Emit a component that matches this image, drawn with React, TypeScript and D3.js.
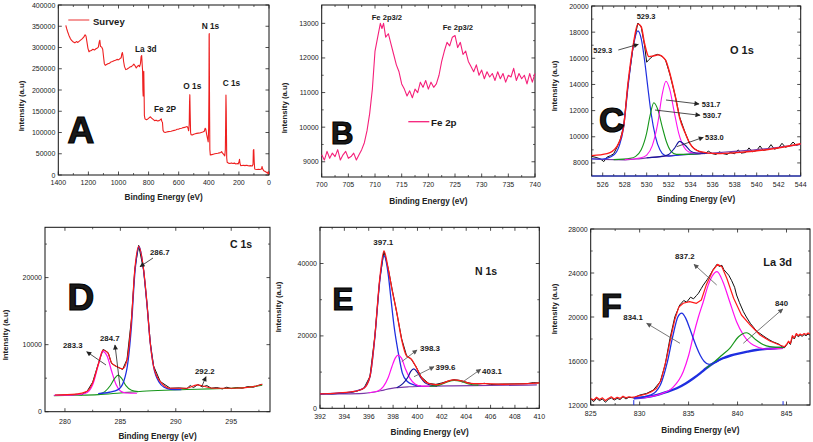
import * as d3 from "d3";

type Pt = [number, number];

// ---------- A: survey ----------
const surveyA: Pt[] = [
  [1350, 352000], [1345, 345000], [1338, 337000], [1330, 329000], [1320, 321000], [1310, 316000],
  [1300, 313000], [1290, 311000], [1280, 314000], [1270, 312000], [1260, 315000], [1250, 318000],
  [1240, 321000], [1230, 325000], [1222, 330000], [1216, 327000], [1210, 314000], [1203, 298000],
  [1196, 290000], [1190, 292000], [1180, 293000], [1170, 296000], [1160, 294000], [1150, 297000],
  [1140, 299000], [1134, 301000], [1128, 313000], [1124, 317000], [1120, 303000], [1112, 301000],
  [1105, 296000], [1100, 280000], [1094, 262000], [1088, 258000], [1080, 260000], [1070, 262000],
  [1060, 263000], [1050, 266000], [1040, 267000], [1030, 269000], [1020, 270000], [1010, 272000],
  [1000, 271000], [990, 274000], [982, 276000], [978, 285000], [974, 288000], [970, 280000],
  [966, 267000], [960, 255000], [952, 248000], [945, 249000], [935, 251000], [925, 254000],
  [915, 255000], [905, 258000], [898, 261000], [890, 257000], [882, 252000], [874, 256000],
  [866, 258000], [860, 255000], [854, 262000], [850, 278000], [846, 281000], [843, 262000],
  [840, 246000], [838, 200000], [836, 186000], [834, 232000], [832, 244000], [830, 198000],
  [828, 140000], [824, 132000], [815, 130000], [805, 132000], [795, 135000], [788, 137000],
  [780, 134000], [770, 131000], [760, 128000], [750, 129000], [740, 127000], [730, 128000],
  [722, 130000], [716, 132000], [712, 126000], [708, 124000], [704, 105000], [698, 101000],
  [690, 100000], [680, 101000], [670, 102000], [660, 102500], [650, 103000], [640, 104000],
  [630, 105000], [620, 106000], [610, 107500], [600, 108000], [590, 109500], [580, 110000],
  [570, 111500], [560, 112000], [550, 113500], [544, 114000], [538, 110000], [534, 104000],
  [530, 120000], [528, 170000], [526, 189000], [524, 150000], [521, 100000], [518, 95000],
  [510, 94000], [500, 96000], [490, 97000], [480, 98000], [470, 98500], [460, 99000],
  [450, 100000], [440, 101000], [430, 103000], [424, 110000], [420, 108000], [414, 95000],
  [408, 85000], [404, 78000], [401, 110000], [399, 200000], [398, 330000], [397, 333000],
  [395, 160000], [393, 60000], [390, 47000], [380, 48000], [370, 49000], [360, 50000],
  [350, 50500], [340, 51000], [330, 52000], [320, 53000], [315, 55000], [310, 52000],
  [300, 48000], [294, 45000], [290, 60000], [288, 120000], [286, 188000], [284, 150000],
  [281, 40000], [278, 30000], [270, 28000], [260, 27000], [250, 28500], [240, 27000],
  [230, 28000], [220, 26000], [210, 27000], [205, 26000], [200, 30000], [196, 37000],
  [193, 28000], [188, 22000], [180, 22500], [170, 23000], [160, 22000], [150, 23000],
  [140, 22000], [130, 21500], [120, 22000], [112, 21000], [106, 25000], [104, 58000],
  [101, 60000], [98, 30000], [95, 14000], [90, 13500], [80, 13000], [70, 13500],
  [60, 13000], [50, 14000], [46, 20000], [43, 15000], [35, 10000], [25, 8000],
  [15, 6000], [8, 4000], [5, 8000], [2, 2000],
];

// ---------- B: Fe 2p ----------
const fe2pB: Pt[] = [
  [700, 9200], [700.5, 9050], [701, 9300], [701.5, 9100], [702, 9250], [702.5, 9150], [703, 9350],
  [703.5, 9050], [704, 9200], [704.5, 9300], [705, 9100], [705.5, 9150], [706, 9250], [706.5, 9050],
  [707, 9200], [707.5, 9350], [708, 9550], [708.5, 9900], [709, 10400], [709.5, 11100], [710, 12200],
  [710.5, 12600], [711, 13000], [711.3, 12850], [711.6, 13000], [712, 12600], [712.5, 12700],
  [713, 12400], [713.5, 12100], [714, 11800], [714.5, 11600], [715, 11250], [715.5, 11100],
  [716, 10900], [716.5, 11050], [717, 10850], [717.5, 11100], [718, 11000], [718.5, 11300],
  [719, 11150], [719.5, 11350], [720, 11100], [720.5, 11300], [721, 11150], [721.5, 11250],
  [722, 11500], [722.5, 11900], [723, 12200], [723.5, 12450], [724, 12350], [724.5, 12600],
  [725, 12650], [725.5, 12300], [726, 12450], [726.5, 12100], [727, 12200], [727.5, 11900],
  [728, 11750], [728.5, 11600], [729, 11800], [729.5, 11500], [730, 11650], [730.5, 11400],
  [731, 11600], [731.5, 11450], [732, 11550], [732.5, 11350], [733, 11600], [733.5, 11400],
  [734, 11550], [734.5, 11300], [735, 11500], [735.5, 11450], [736, 11700], [736.5, 11350],
  [737, 11550], [737.5, 11400], [738, 11500], [738.5, 11250], [739, 11550], [739.5, 11300], [740, 11550],
];

// ---------- C: O 1s ----------
const o1sData: Pt[] = [
  [525, 8500], [525.4, 8420], [525.8, 8300], [526.1, 8100], [526.4, 8450], [526.7, 8550], [527, 8700],
  [527.3, 9200], [527.6, 9800], [527.9, 10800], [528.3, 14000], [528.8, 17100], [529.2, 18700],
  [529.5, 18400], [529.8, 17000], [530, 15700], [530.2, 15900], [530.6, 16200], [531, 16300],
  [531.4, 16150], [531.7, 15900], [532.1, 14800], [532.6, 13100], [533, 11500], [533.5, 10300],
  [533.9, 9500], [534.3, 9100], [534.8, 8850], [535, 8800], [535.3, 8700], [535.6, 8900], [536, 8700],
  [536.3, 8650], [536.6, 8850], [537, 8700], [537.3, 8650], [537.6, 8800], [538, 8700], [538.3, 9000],
  [538.6, 8750], [539, 8800], [539.3, 9150], [539.6, 8850], [540, 8950], [540.3, 9300], [540.6, 8950],
  [541, 9050], [541.3, 9400], [541.6, 9050], [542, 9150], [542.3, 9500], [542.6, 9200], [543, 9300],
  [543.3, 9600], [543.6, 9350], [544, 9450],
];
const o1sFit: Pt[] = [
  [525, 8560], [526.4, 8710], [527.3, 9270], [527.9, 10790], [528.3, 14100], [528.8, 17150],
  [529.2, 18630], [529.5, 18420], [529.8, 17150], [530.2, 16130], [530.6, 16180], [531.05, 16260],
  [531.7, 15880], [532.1, 14860], [532.6, 13080], [533, 11430], [533.5, 10290], [533.9, 9520],
  [534.8, 8880], [536.4, 8710], [538.5, 8810], [540.9, 9010], [544, 9470],
];
const o1sBase: Pt[] = [
  [525, 8300], [527, 8250], [528, 8240], [529, 8300], [530, 8380], [531, 8460], [532, 8540],
  [533, 8610], [534, 8670], [536, 8760], [538, 8880], [540, 9020], [542, 9200], [544, 9420],
];
const o1s5293: Pt[] = [
  [525, 8320], [526, 8300], [527, 8600], [527.5, 9300], [527.9, 10700], [528.3, 13800], [528.8, 17000],
  [529.2, 18100], [529.5, 17500], [529.8, 15900], [530.1, 13800], [530.4, 11800], [530.8, 10000],
  [531.2, 9000], [531.6, 8600], [532, 8520], [533, 8610], [534, 8670], [535, 8720],
];
const o1s5307: Pt[] = [
  [527, 8250], [528.5, 8350], [529, 8500], [529.5, 9000], [530, 10300], [530.3, 11600], [530.65, 12600],
  [531, 12100], [531.4, 10800], [531.8, 9600], [532.2, 8900], [532.7, 8650], [533.5, 8650], [535, 8720],
];
const o1s5317: Pt[] = [
  [528, 8250], [529.5, 8400], [530, 8600], [530.5, 9300], [531, 11000], [531.4, 13200], [531.75, 14250],
  [532.1, 13600], [532.5, 11900], [532.9, 10300], [533.4, 9200], [534, 8800], [535, 8730],
];
const o1s5330: Pt[] = [
  [530, 8400], [531.5, 8520], [532, 8650], [532.5, 9100], [533, 9650], [533.5, 9350], [534, 8900],
  [534.5, 8760], [535.5, 8740],
];
const o1sFloor: Pt[] = [[525, 7000], [544, 7000]];

// ---------- D: C 1s ----------
const c1sData: Pt[] = [
  [279.1, 2450], [280, 2500], [280.5, 2450], [281, 2600], [281.5, 2500], [282, 3050], [282.5, 4400],
  [283, 7100], [283.45, 9300], [283.9, 8800], [284.2, 7200], [284.7, 6700], [285.2, 6300], [285.6, 7800],
  [286, 13800], [286.3, 21200], [286.65, 24800], [287.1, 21100], [287.4, 16100], [287.7, 10300],
  [288, 6800], [288.6, 4500], [289.5, 3500], [290.3, 3550], [291, 3450], [291.3, 3900], [291.6, 3600],
  [292, 4050], [292.4, 3700], [292.8, 3900], [293.2, 3500], [293.7, 3600], [294.2, 3400], [294.6, 3650],
  [295, 3450], [295.5, 3600], [296, 3500], [296.5, 3750], [297, 3650], [297.4, 3900], [297.8, 4100],
];
const c1sFit: Pt[] = [
  [279.1, 2490], [281, 2620], [282, 3050], [282.5, 4300], [283, 7000], [283.45, 9200], [283.9, 8700],
  [284.2, 7300], [284.7, 6700], [285.2, 6400], [285.6, 7700], [286, 13700], [286.3, 21150],
  [286.65, 24650], [287.1, 21150], [287.4, 16180], [287.7, 10200], [288, 6720], [288.6, 4480],
  [289.5, 3500], [291, 3500], [291.9, 4000], [292.5, 3800], [293.4, 3500], [295.2, 3500], [297, 3730], [297.8, 4090],
];
const c1sBase: Pt[] = [
  [279, 2400], [281, 2450], [283, 2550], [285, 2800], [287, 3050], [289, 3200], [291, 3300],
  [293, 3400], [295, 3500], [296.5, 3650], [297.8, 3950],
];
const c1s2833: Pt[] = [
  [279, 2450], [280.5, 2480], [281.5, 2600], [282, 2850], [282.5, 4000], [283, 6900], [283.4, 9000],
  [283.8, 8300], [284.2, 6100], [284.6, 4100], [285, 3100], [285.5, 2800], [286.5, 2750],
];
const c1s2847: Pt[] = [
  [283, 2600], [283.6, 3000], [284.1, 3900], [284.5, 5000], [284.8, 5450], [285.1, 5000], [285.5, 3900],
  [286, 3200], [286.6, 3000],
];
const c1s2867: Pt[] = [
  [283, 2700], [284, 2900], [284.8, 3300], [285.3, 4500], [285.7, 7600], [286, 12800], [286.3, 20500],
  [286.7, 24600], [287.1, 21000], [287.4, 16000], [287.7, 10200], [288, 6700], [288.5, 4400],
  [289, 3600], [289.5, 3350], [290.5, 3300],
];

// ---------- E: N 1s ----------
const n1sData: Pt[] = [
  [392, 3900], [392.5, 4050], [393, 3950], [393.5, 4100], [394, 4150], [394.5, 4350], [395, 4700],
  [395.6, 5500], [396.1, 8800], [396.5, 19800], [396.9, 35500], [397.25, 43300], [397.6, 38600],
  [397.9, 33200], [398.3, 26400], [398.7, 19200], [399.1, 14600], [399.5, 13500], [399.9, 11400],
  [400.3, 8700], [400.9, 6900], [401.5, 6600], [402, 7000], [402.5, 7500], [403, 7900], [403.5, 7700],
  [404, 7200], [404.5, 6800], [405, 6700], [405.5, 6900], [406, 6600], [407, 6700], [408, 6750],
  [409, 6800], [409.5, 7100], [410, 7000],
];
const n1sFit: Pt[] = [
  [392, 3970], [394.7, 4610], [395.6, 5550], [396.1, 8780], [396.5, 19900], [396.9, 35640],
  [397.25, 43500], [397.6, 38500], [397.9, 33000], [398.3, 26500], [398.7, 19000], [399.1, 14500],
  [399.5, 13600], [399.9, 11300], [400.3, 8600], [400.9, 6900], [401.6, 6500], [402.1, 6950],
  [402.9, 7860], [403.7, 7500], [404.3, 6900], [405.6, 6800], [407, 6650], [409.8, 6950], [410, 7000],
];
const n1sBase: Pt[] = [
  [392, 3970], [394, 4000], [395.6, 4150], [396.5, 4500], [397.3, 5100], [398.3, 5700], [399.3, 5950],
  [400.3, 6050], [402.8, 6200], [406, 6300], [409.8, 6450],
];
const n1s3971: Pt[] = [
  [392, 3970], [394, 4300], [395, 4800], [395.6, 5600], [396.1, 8700], [396.5, 19500], [396.9, 35000],
  [397.25, 42100], [397.6, 37000], [397.8, 31000], [398.08, 22670], [398.43, 15280], [398.76, 9720],
  [399.17, 7390], [399.7, 6500], [400.3, 6100],
];
const n1s3983: Pt[] = [
  [396, 4300], [396.7, 4700], [397.2, 6000], [397.6, 8500], [397.9, 11500], [398.2, 14000],
  [398.4, 14700], [398.7, 13800], [399, 11000], [399.4, 8200], [399.8, 6700], [400.3, 6100], [401, 6100],
];
const n1s3996: Pt[] = [
  [398.3, 5700], [398.8, 6800], [399.2, 8500], [399.45, 10200], [399.7, 10900], [400, 9900],
  [400.3, 8300], [400.6, 7100], [401, 6500], [401.6, 6150],
];
const n1s4031: Pt[] = [
  [401, 6100], [401.8, 6400], [402.4, 7200], [403, 7700], [403.6, 7400], [404.2, 6700], [405, 6350],
];

// ---------- F: La 3d ----------
const la3dData: Pt[] = [
  [825, 12550], [825.3, 12300], [825.6, 12600], [825.9, 12400], [826.2, 12550], [826.5, 12250],
  [826.8, 12500], [827.1, 12650], [827.4, 12450], [827.7, 12600], [828, 12500], [828.3, 12750],
  [828.6, 12550], [828.9, 12700], [829.4, 12650], [830, 12900], [830.7, 13050], [831.4, 13360],
  [832.1, 14120], [832.6, 15640], [833.1, 18060], [833.6, 20030], [834.1, 21090], [834.5, 21500],
  [834.8, 21350], [835.2, 21800], [835.5, 21650], [835.8, 21950], [836, 22150], [836.3, 22600],
  [836.5, 22900], [836.9, 23400], [837.2, 23820], [837.5, 24300], [837.9, 24790], [838.1, 24600],
  [838.4, 24700], [838.6, 24300], [838.9, 24000], [839.1, 23800], [839.4, 23300], [839.7, 22700],
  [839.9, 22000], [840.2, 21300], [840.6, 20480], [840.9, 20000], [841.3, 19430], [841.6, 19100],
  [842, 18660], [842.3, 18500], [842.6, 18300], [843, 18060], [843.3, 17900], [843.6, 17750],
  [844, 17610], [844.3, 17500], [844.5, 17300], [844.8, 17210], [845, 17450], [845.2, 17700],
  [845.4, 17500], [845.6, 18200], [845.8, 18000], [846, 18400], [846.2, 18200], [846.4, 18350],
  [846.6, 18250], [846.8, 18400], [847, 18300], [847.2, 18450], [847.4, 18350],
];
const la3dFit: Pt[] = [
  [825, 12600], [825.3, 12450], [825.6, 12700], [825.9, 12500], [826.2, 12650], [826.5, 12400],
  [826.8, 12600], [827.1, 12750], [827.4, 12550], [827.7, 12700], [828, 12600], [828.3, 12800],
  [828.6, 12650], [828.9, 12750], [829.2, 12700], [829.5, 12750], [830, 12850], [830.7, 13000],
  [831.2, 13200], [831.7, 13500], [832.2, 14300], [832.75, 16240], [833.2, 18200], [833.6, 19800],
  [834, 20900], [834.45, 21250], [835.1, 21400], [835.8, 21240], [836.3, 21550], [836.8, 22900],
  [837.5, 24270], [837.96, 24790], [838.4, 24570], [838.9, 23520], [839.6, 21700], [840.4, 20180],
  [841.3, 19270], [842.3, 18360], [843.3, 17820], [844.3, 17450], [844.8, 17300], [845, 17500],
  [845.2, 17800], [845.4, 17600], [845.6, 18300], [845.8, 18100], [846, 18500], [846.2, 18300],
  [846.4, 18450], [846.6, 18350], [846.8, 18500], [847, 18400], [847.2, 18550], [847.4, 18450],
];
const la3dBase: Pt[] = [
  [829.4, 12600], [830.5, 12700], [831.7, 12900], [832.8, 13200], [833.8, 13520], [834.7, 13950],
  [835.5, 14430], [836.2, 14900], [836.8, 15340], [837.6, 15850], [838.5, 16250], [839.3, 16500],
  [840.2, 16700], [841, 16850], [841.9, 17000], [843, 17100], [844.65, 17210],
];
const la3d8341: Pt[] = [
  [829.4, 12600], [830.5, 12750], [831.5, 13100], [832.2, 14000], [832.8, 15800], [833.4, 18300],
  [833.9, 20000], [834.3, 20350], [834.7, 19900], [835.1, 19000], [835.5, 18000], [835.8, 17300],
  [836.2, 16500], [836.6, 15950], [837.1, 15700], [837.6, 15820], [838.5, 16250], [839.3, 16500],
];
const la3d8372: Pt[] = [
  [829.4, 12600], [830.7, 12700], [832, 12950], [833.4, 13600], [834.45, 15030], [835, 16500],
  [835.5, 18360], [836, 20000], [836.5, 21390], [837, 22900], [837.4, 23700], [837.9, 24120],
  [838.5, 23210], [839.2, 21390], [839.9, 19570], [840.6, 18360], [841.6, 17450], [843, 17090], [844.65, 17150],
];
const la3d840: Pt[] = [
  [836.8, 15340], [837.6, 15900], [838.3, 16450], [839.2, 17150], [840.1, 18210], [840.9, 18570],
  [841.9, 17910], [842.6, 17500], [843.3, 17300], [844.65, 17210],
];
const la3dMarkL: Pt[] = [[829.4, 12000], [829.4, 12450]];
const la3dMarkR: Pt[] = [[844.65, 12000], [844.65, 12350]];

// ---------- ticks ----------
const aXTicks = [1400, 1200, 1000, 800, 600, 400, 200, 0];
const aYTicks = [0, 50000, 100000, 150000, 200000, 250000, 300000, 350000, 400000];
const bXTicks = [700, 705, 710, 715, 720, 725, 730, 735, 740];
const bYTicks = [9000, 10000, 11000, 12000, 13000];
const cXTicks = [526, 528, 530, 532, 534, 536, 538, 540, 542, 544];
const cYTicks = [8000, 10000, 12000, 14000, 16000, 18000, 20000];
const dXTicks = [280, 285, 290, 295];
const dYTicks = [0, 10000, 20000];
const eXTicks = [392, 394, 396, 398, 400, 402, 404, 406, 408, 410];
const eYTicks = [0, 20000, 40000];
const fXTicks = [825, 830, 835, 840, 845];
const fYTicks = [12000, 16000, 20000, 24000, 28000];

const FONT = "'Liberation Sans', Arial, sans-serif";
const RED = "#ff1a1a";
const BLUE = "#1f2fe0";
const GREEN = "#16961a";
const MAG = "#ff10f0";
const NAVY = "#16169a";
const PURPLE = "#7a3aa8";

type Curve = { data: Pt[]; color: string; width?: number; smooth?: boolean };
type Note = { text: string; at: Pt; size: number; anchor?: "start" | "middle" | "end"; weight?: number; fill?: string; big?: boolean };
type Pointer = { from: Pt; to: Pt; color: string };
type PanelCfg = {
  id: string;
  box: [number, number, number, number];
  xDomain: Pt;
  yDomain: Pt;
  xTicks: number[];
  xMinor: number[];
  yTicks: number[];
  yMinor: number[];
  xLabelDy: number;
  xTitleY: number;
  yTitle: Pt;
  curves: Curve[];
  notes: Note[];
  pointers: Pointer[];
};

const panels: PanelCfg[] = [
  {
    id: "A",
    box: [58.3, 5, 269, 175],
    xDomain: [1400, 0],
    yDomain: [0, 400000],
    xTicks: aXTicks,
    xMinor: d3.range(100, 1400, 200),
    yTicks: aYTicks,
    yMinor: [],
    xLabelDy: 10,
    xTitleY: 200,
    yTitle: [24, 106],
    curves: [{ data: surveyA, color: "#ee2020", width: 1.1 }],
    notes: [
      { text: "Survey", at: [93, 24.5], size: 9.5 },
      { text: "La 3d", at: [135, 51.5], size: 8.3 },
      { text: "Fe 2P", at: [154, 112.3], size: 8.3 },
      { text: "O 1s", at: [183.3, 89.3], size: 8.3 },
      { text: "N 1s", at: [201.7, 29.3], size: 8.3 },
      { text: "C 1s", at: [222.7, 86], size: 8.3 },
      { text: "A", at: [67.5, 143.3], size: 37, big: true },
    ],
    pointers: [],
  },
  {
    id: "B",
    box: [321.7, 5, 535, 177],
    xDomain: [700, 740],
    yDomain: [8560, 13530],
    xTicks: bXTicks,
    xMinor: d3.range(702.5, 740, 5),
    yTicks: bYTicks,
    yMinor: d3.range(9500, 13500, 1000),
    xLabelDy: 10,
    xTitleY: 204,
    yTitle: [287, 108],
    curves: [{ data: fe2pB, color: "#f5207a", width: 1.1 }],
    notes: [
      { text: "Fe 2p3/2", at: [371.7, 20], size: 7.6 },
      { text: "Fe 2p3/2", at: [442.7, 30], size: 7.6 },
      { text: "Fe 2p", at: [431, 126], size: 9.8 },
      { text: "B", at: [331, 144], size: 31, big: true },
    ],
    pointers: [],
  },
  {
    id: "C",
    box: [591.7, 6, 800.7, 176],
    xDomain: [525, 544],
    yDomain: [7000, 20000],
    xTicks: cXTicks,
    xMinor: d3.range(525, 545, 2),
    yTicks: cYTicks,
    yMinor: d3.range(9000, 20000, 2000),
    xLabelDy: 11,
    xTitleY: 201.5,
    yTitle: [557, 86],
    curves: [
      { data: o1sFloor, color: BLUE, width: 1.2 },
      { data: o1sData, color: "#111", width: 1 },
      { data: o1sBase, color: PURPLE, width: 1.2, smooth: true },
      { data: o1s5293, color: BLUE, width: 1.2, smooth: true },
      { data: o1s5307, color: GREEN, width: 1.1, smooth: true },
      { data: o1s5317, color: MAG, width: 1.1, smooth: true },
      { data: o1s5330, color: NAVY, width: 1.1, smooth: true },
      { data: o1sFit, color: RED, width: 1.4, smooth: true },
    ],
    notes: [
      { text: "529.3", at: [636.7, 19.3], size: 7.5 },
      { text: "529.3", at: [593.3, 53.3], size: 7.5 },
      { text: "531.7", at: [701.7, 106.7], size: 7.5 },
      { text: "530.7", at: [702.7, 118.3], size: 7.5 },
      { text: "533.0", at: [705, 140], size: 7.5 },
      { text: "O 1s", at: [730, 54], size: 11 },
      { text: "C", at: [599, 131.7], size: 35, big: true },
    ],
    pointers: [
      { from: [618.3, 50], to: [638.3, 44.3], color: "#222" },
      { from: [666, 100], to: [699, 104], color: "#222" },
      { from: [655, 110], to: [700, 115.3], color: "#222" },
      { from: [676.7, 146.7], to: [703.3, 137.3], color: "#222" },
    ],
  },
  {
    id: "D",
    box: [45, 227.3, 270, 411.7],
    xDomain: [278.2, 298.5],
    yDomain: [0, 27500],
    xTicks: dXTicks,
    xMinor: d3.range(282.5, 298, 5),
    yTicks: dYTicks,
    yMinor: [5000, 15000, 25000],
    xLabelDy: 12.5,
    xTitleY: 438.5,
    yTitle: [8, 335],
    curves: [
      { data: c1sData, color: "#111", width: 1 },
      { data: c1sBase, color: GREEN, width: 1.1, smooth: true },
      { data: c1s2833, color: MAG, width: 1.2, smooth: true },
      { data: c1s2847, color: GREEN, width: 1.1, smooth: true },
      { data: c1s2867, color: BLUE, width: 1.3, smooth: true },
      { data: c1sFit, color: RED, width: 1.2, smooth: true },
    ],
    notes: [
      { text: "286.7", at: [150, 255], size: 7.8 },
      { text: "283.3", at: [63, 348.3], size: 7.8 },
      { text: "284.7", at: [100, 340.7], size: 7.8 },
      { text: "292.2", at: [195, 374], size: 7.8 },
      { text: "C 1s", at: [230, 248.3], size: 10.5 },
      { text: "D", at: [67.5, 310], size: 37, big: true },
    ],
    pointers: [
      { from: [153, 258], to: [140, 266.7], color: "#222" },
      { from: [106, 365], to: [86.7, 351.7], color: "#222" },
      { from: [120, 386.7], to: [115, 345], color: "#222" },
      { from: [201.7, 386.7], to: [206, 376.7], color: "#222" },
    ],
  },
  {
    id: "E",
    box: [320, 227.3, 539.3, 408.3],
    xDomain: [392, 410],
    yDomain: [0, 50000],
    xTicks: eXTicks,
    xMinor: d3.range(393, 410, 2),
    yTicks: eYTicks,
    yMinor: [10000, 30000, 50000],
    xLabelDy: 11,
    xTitleY: 435,
    yTitle: [281, 307],
    curves: [
      { data: n1sData, color: "#111", width: 1 },
      { data: n1sBase, color: PURPLE, width: 1.2, smooth: true },
      { data: n1s3971, color: BLUE, width: 1.3, smooth: true },
      { data: n1s3983, color: MAG, width: 1.2, smooth: true },
      { data: n1s3996, color: NAVY, width: 1.2, smooth: true },
      { data: n1s4031, color: GREEN, width: 1.1, smooth: true },
      { data: n1sFit, color: RED, width: 1.3, smooth: true },
    ],
    notes: [
      { text: "397.1", at: [373.3, 245], size: 8 },
      { text: "398.3", at: [420, 350.7], size: 8 },
      { text: "399.6", at: [435.5, 370], size: 8 },
      { text: "403.1", at: [482, 374], size: 8 },
      { text: "N 1s", at: [475, 275], size: 10.5 },
      { text: "E", at: [332.5, 310], size: 31, big: true },
    ],
    pointers: [
      { from: [401.7, 361.7], to: [417, 350], color: "#555" },
      { from: [414, 376.7], to: [434, 366.7], color: "#555" },
      { from: [461.7, 382.7], to: [480.7, 369.3], color: "#555" },
    ],
  },
  {
    id: "F",
    box: [590.7, 229, 810, 405],
    xDomain: [825, 847.4],
    yDomain: [12000, 28000],
    xTicks: fXTicks,
    xMinor: d3.range(827.5, 847, 5),
    yTicks: fYTicks,
    yMinor: d3.range(14000, 28000, 4000),
    xLabelDy: 11,
    xTitleY: 432.5,
    yTitle: [557, 309],
    curves: [
      { data: la3dData, color: "#111", width: 1 },
      { data: la3dBase, color: BLUE, width: 2.4, smooth: true },
      { data: la3d8372, color: MAG, width: 1.2, smooth: true },
      { data: la3d840, color: GREEN, width: 1.2, smooth: true },
      { data: la3d8341, color: BLUE, width: 1.3, smooth: true },
      { data: la3dFit, color: RED, width: 1.2 },
      { data: la3dMarkL, color: BLUE, width: 1 },
      { data: la3dMarkR, color: BLUE, width: 1 },
    ],
    notes: [
      { text: "837.2", at: [675, 259.3], size: 7.8 },
      { text: "834.1", at: [623.3, 320], size: 7.8 },
      { text: "840", at: [775, 306], size: 7.8 },
      { text: "La 3d", at: [763.3, 265.7], size: 11 },
      { text: "F", at: [601, 316.7], size: 34, big: true },
    ],
    pointers: [
      { from: [716.7, 285], to: [694, 264.3], color: "#555" },
      { from: [680, 343.3], to: [646.7, 323.3], color: "#555" },
      { from: [743.3, 343.3], to: [782.7, 309], color: "#555" },
    ],
  },
];

const fmt = (v: number) => String(v);

function Panel({ cfg }: { cfg: PanelCfg }) {
  const [x0, y0, x1, y1] = cfg.box;
  const x = d3.scaleLinear().domain(cfg.xDomain).range([x0, x1]);
  const y = d3.scaleLinear().domain(cfg.yDomain).range([y1, y0]);
  const path = (c: Curve) =>
    d3
      .line<Pt>()
      .x((d) => x(d[0]))
      .y((d) => y(d[1]))
      .curve(c.smooth ? d3.curveMonotoneX : d3.curveLinear)(c.data) ?? "";
  const major = 3.5;
  const minor = 2;
  const tickColor = "#222";
  return (
    <g>
      <clipPath id={`clip-${cfg.id}`}>
        <rect x={x0 - 1} y={y0} width={x1 - x0 + 2} height={y1 - y0 + 1} />
      </clipPath>
      <rect x={x0} y={y0} width={x1 - x0} height={y1 - y0} fill="none" stroke="#111" strokeWidth={1} />
      {/* inward ticks on all sides */}
      {cfg.xTicks.map((t) => (
        <g key={`xt${t}`} stroke={tickColor} strokeWidth={0.8}>
          <line x1={x(t)} x2={x(t)} y1={y1} y2={y1 - major} />
          <line x1={x(t)} x2={x(t)} y1={y0} y2={y0 + major} />
        </g>
      ))}
      {cfg.xMinor.map((t) => (
        <g key={`xm${t}`} stroke={tickColor} strokeWidth={0.7}>
          <line x1={x(t)} x2={x(t)} y1={y1} y2={y1 - minor} />
          <line x1={x(t)} x2={x(t)} y1={y0} y2={y0 + minor} />
        </g>
      ))}
      {cfg.yTicks.map((t) => (
        <g key={`yt${t}`} stroke={tickColor} strokeWidth={0.8}>
          <line x1={x0} x2={x0 + major} y1={y(t)} y2={y(t)} />
          <line x1={x1} x2={x1 - major} y1={y(t)} y2={y(t)} />
        </g>
      ))}
      {cfg.yMinor.map((t) => (
        <g key={`ym${t}`} stroke={tickColor} strokeWidth={0.7}>
          <line x1={x0} x2={x0 + minor} y1={y(t)} y2={y(t)} />
          <line x1={x1} x2={x1 - minor} y1={y(t)} y2={y(t)} />
        </g>
      ))}
      <g clipPath={`url(#clip-${cfg.id})`} fill="none" strokeLinejoin="round">
        {cfg.curves.map((c, i) => (
          <path key={i} d={path(c)} stroke={c.color} strokeWidth={c.width ?? 1} />
        ))}
      </g>
      {/* tick labels */}
      <g fontFamily={FONT} fontSize={7} fill="#222">
        {cfg.xTicks.map((t) => (
          <text key={`xl${t}`} x={x(t)} y={y1 + cfg.xLabelDy} textAnchor="middle">
            {fmt(t)}
          </text>
        ))}
        {cfg.yTicks.map((t) => (
          <text key={`yl${t}`} x={x0 - 3} y={y(t) + 2.5} textAnchor="end">
            {fmt(t)}
          </text>
        ))}
      </g>
      <text x={(x0 + x1) / 2} y={cfg.xTitleY} textAnchor="middle" fontFamily={FONT} fontSize={8.2} fontWeight="bold" fill="#222">
        Binding Energy (eV)
      </text>
      <text
        transform={`translate(${cfg.yTitle[0]},${cfg.yTitle[1]}) rotate(-90)`}
        textAnchor="middle"
        fontFamily={FONT}
        fontSize={7.8}
        fontWeight="bold"
        fill="#222"
      >
        Intensity (a.u)
      </text>
      {cfg.pointers.map((p, i) => (
        <line
          key={`p${i}`}
          x1={p.from[0]}
          y1={p.from[1]}
          x2={p.to[0]}
          y2={p.to[1]}
          stroke={p.color}
          strokeWidth={0.8}
          markerEnd={`url(#arrow-${p.color === "#222" ? "dark" : "gray"})`}
        />
      ))}
      {cfg.notes.map((n, i) => (
        <text
          key={`n${i}`}
          x={n.at[0]}
          y={n.at[1]}
          fontFamily={FONT}
          fontSize={n.size}
          fontWeight={n.big ? 900 : "bold"}
          fill={n.fill ?? "#1a1a1a"}
          stroke={n.big ? "#000" : "none"}
          strokeWidth={n.big ? 1.2 : 0}
          textAnchor={n.anchor ?? "start"}
        >
          {n.text}
        </text>
      ))}
    </g>
  );
}

export default function App() {
  return (
    <svg
      width={813}
      height={442}
      viewBox="0 0 813 442"
      style={{ position: "absolute", left: 0, top: 0, background: "#fff" }}
    >
      <defs>
        <marker id="arrow-dark" viewBox="0 0 10 10" refX={9} refY={5} markerWidth={6} markerHeight={5} markerUnits="userSpaceOnUse" orient="auto">
          <path d="M0,0L10,5L0,10z" fill="#222" />
        </marker>
        <marker id="arrow-gray" viewBox="0 0 10 10" refX={9} refY={5} markerWidth={6} markerHeight={5} markerUnits="userSpaceOnUse" orient="auto">
          <path d="M0,0L10,5L0,10z" fill="#555" />
        </marker>
      </defs>
      <rect width={813} height={442} fill="#fff" />
      {panels.map((p) => (
        <Panel key={p.id} cfg={p} />
      ))}
      {/* legend strokes */}
      <line x1={68.3} x2={89.3} y1={20} y2={20} stroke="#f06060" strokeWidth={1.3} />
      <line x1={408.3} x2={429.3} y1={121.7} y2={121.7} stroke="#f5207a" strokeWidth={1.3} />
    </svg>
  );
}
